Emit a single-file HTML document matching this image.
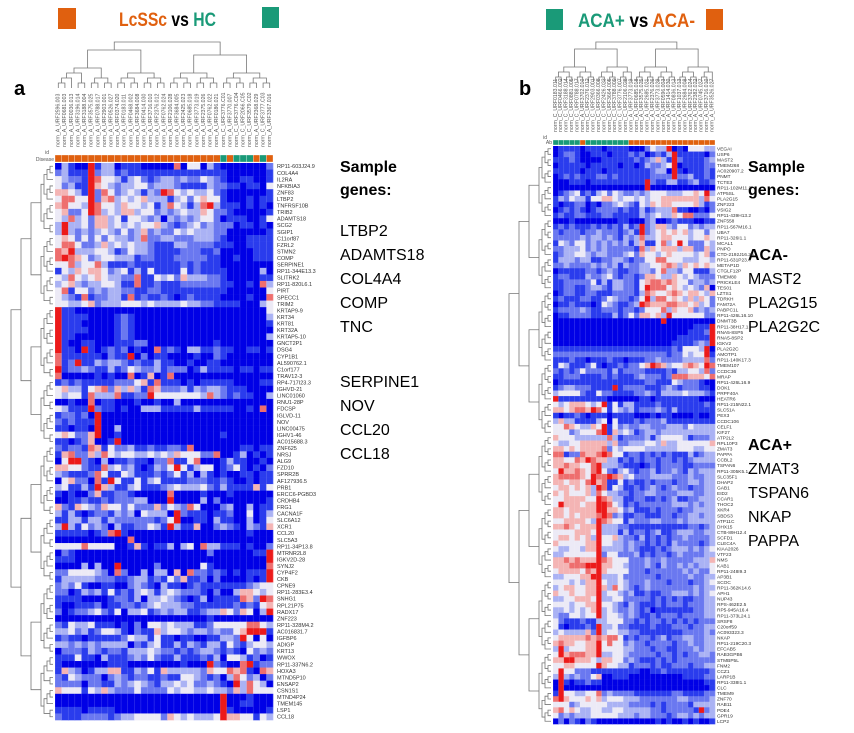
<!DOCTYPE html>
<html><head><meta charset="utf-8">
<style>
body{margin:0;background:#fff;width:854px;height:733px;overflow:hidden;font-family:"Liberation Sans",sans-serif;}
svg{position:absolute;left:0;top:0}
.t{font-family:"Liberation Sans",sans-serif}
</style></head><body>
<svg id="chart" width="854" height="733">
<g>
<rect x="58" y="8" width="18" height="21" fill="#e0600f"/>
<text x="119" y="26" font-size="19" font-weight="bold" class="t" textLength="97" lengthAdjust="spacingAndGlyphs"><tspan fill="#e0600f">LcSSc</tspan><tspan fill="#000"> vs </tspan><tspan fill="#1a9a78">HC</tspan></text>
<rect x="262" y="7" width="17" height="21" fill="#1a9a78"/>
</g>
<g>
<rect x="546" y="9" width="17" height="21" fill="#1a9a78"/>
<text x="578" y="27" font-size="19" font-weight="bold" class="t" textLength="117" lengthAdjust="spacingAndGlyphs"><tspan fill="#1a9a78">ACA+</tspan><tspan fill="#000"> vs </tspan><tspan fill="#e0600f">ACA-</tspan></text>
<rect x="706" y="9" width="17" height="21" fill="#e0600f"/>
</g>
<text x="14" y="95" font-size="20" font-weight="bold" class="t">a</text>
<text x="519" y="95" font-size="20" font-weight="bold" class="t">b</text>
<g id="side" font-size="16" class="t" fill="#000"></g>
<g id="L"></g><g id="R"></g>
</svg>
<script>
const leftGroups="OOOOOOOOOOOOOOOOOOOOOOOOOGOGGGOGO";
const rightGroups="GGGGGOGGGGGGGGOOOOOOOOOOOOOOOO";
const leftRows=[
"031007133011100000604403100000002","231117233121111111111111110000001","432217644313421233232243210011001","423117543233442333211113221101104",
"554317264234313276434334210000001","466447256343453331342454410001011","564437644354434136431367311101010","452247634355344232343354221000001",
"436342553414432303232344201110014","373342553434344532123423222011010","373232343242352322434333220000001","454242424332362233222333210001111",
"466422353434332111332222111001111","657333443124332111122211200000111","676542344333122111222221100100111","446344631112111111121211100000000",
"143545542341314111141211110000030","436434543322611434253332210000011","345323344311611211122222211001063","461442323322112211111111110000004",
"432161223316121121012111100001006","443345233344434333343322111100034","711000000000000000000000000000004","711110000121000000000000000000003",
"711100000121000000000000000000001","711110000121000000000000000000000","711000000121000000000000000000003","710011000111220000000000100000000",
"711071012120100612103311211001101","611111102117020110000100210000000","612711323321211311001001100000000","712232113124322312220131111011011",
"600000101006015016000000000000000","121211111222451611101011111000011","453314562535316522231323321110000","434416333611227444444436321211003",
"001006011000100100300000000000000","431117211010033311111311111001060","122120700000000000000000000000000","212111700000000000000000000000000",
"110110700300000000000000000000000","454225700100000000000000010000000","110125001700000000000000000000000","212216514223112112216000000011011",
"156225364344334343544422600130101","047721030112110226114600013110010","554421163423101324741344012410102","321112641143111212413031010011011",
"045220617411413411112221121001011","341131753113411123433342131111514","101002511221000006000010001000000","001121121222330007000030200000001",
"521543254424222524326400023003011","313101221323043330721110112004013","113313313222222124700110311003014","373142320311224317311500232103215",
"111110126710000000000000000001000","000000000006000000000000000000000","444464444001510113034063311101002","021000000000000000000002000000117",
"111000000000000000000000000000007","000030300700000200000041000000006","224444320620030330506221210101117","133333222112331214251120200001017",
"232410011002321031101211111112344","220132314121343134322210200355434","111100001221303343210130111165276","100111201122123433322111111212145",
"201223421403341232331123354254037","000000000000000000000001000000000","214334111010204434333112444446643","334231244310211534432332322457771",
"121101111124331411011001133274040","332323233330213411313213314213443","022213212213334322121233212104232","111411031112324211311121304431201",
"100000001110000000010007210067122","153201335511324153333325446561065","214322202321221121144321203642302","222202211323432133434223210736430",
"544414353222422224344334332536444","000000000000000000000000070001000","000000000000000000000000070011000","111101111000000000000000071000001",
"211122221233444425434333475544143"];
const rightRows=[
"011110111011110002433701044433","012210011101112120121371111102","111210000111111212353172111123","011111011111011013223470111122",
"111110111011111111233071011121","012121112212111111222272231121","000111011111111117211331123112","000000000000000007000000000000",
"012341213424322323444333445473","132433144554344343445555555364","101122010223432143545544445312","012121012222121131233361100102",
"121122111221111132343354662224","000100000000110002300121110011","121211121212131272355324423233","212221223222123172345454534424",
"222223233232132363345544434454","143244232323231351146347422243","223334232322222163545553552253","123344323322234254434544443452",
"133323311223321224466444333443","223222232323132233445653545454","011111221232112233246332441113","122111322342122125543354343222",
"112222241313322145665654423323","112211233213322147666454343250","012211221112222136544565455435","121112211243221247366454353542",
"011211101432112376555665545342","122223211222122124446354452323","011222211113124255453744444422","000000000000000000007000000000",
"000000000000000000000000001117","000000000000000000000000011127","000000000000000000000001111117","000000000000000000000011112327",
"111111111111111111111121444370","222222222222222222222122434471","111211011121101112232222333362","143111241011212245765344565476",
"212124222213122221111213344362","112221111212111232221266655546","011111111111111112211143222100","123322211117122221112321222110",
"344442114221111223213333433321","711111111100000011011111111000","434555434714133111121111111121","554566576414323122232131111111",
"101121011101111000101100001001","353311113404111212223111111111","446543354714232233222333243333","444234446715343123323333333333",
"544433333363122223134444312223","433445555535223334435334444445","554545555624344443333334443344","661226556764412212121211131233",
"554465765533121212212212123333","556554467333211101212222112222","475565467421342122312232132333","566665476676534222333322232233",
"554554675611412112122212233233","455454537614311212321232212233","545444536433221223322223332233","445555447653311221121231122333",
"475554557764312122222233323233","554555557755423111212221223333","554545556762311221112212233233","445555437654413222332223233333",
"556545557333221111111111122123","444455547333131221231123332233","455454537445322131212122322223","544444557443323221212132222123",
"433443557333323211121233323234","334444447244222312122123222233","556565557654442223223222223335","555666777554432223213223232334",
"455554657544442221222222323224","334445577333422222212222232233","444343557433432223222122212234","345544557536432123222222223233",
"544544557344323112112233323234","334455547334422222121212112233","444344557443213211121222122233","334343457343223212011111112233",
"322443447344323211212221222233","421112113344422121221212121222","410111217334221111211122212233","343333527344332211111111222232",
"455555656566412122123122332233","565544557464423221222212232233","373444557444433222122112223233","475666557334432222212212122332",
"557755543554423211121212222222","445544447544331222121122212233","474422211111111100112111111112","373232245001110000000000111122",
"071011211000000000000000000011","070000000000000000000000000001","174433446232222111111122111122","675444545344433322222223322223",
"444234444433332222121222213333","564543344334433333221222221723","423233344444333233222123323233","020210210000000000010100101001"];
const leftGenes=["RP11-603J24.9","COL4A4","IL2RA","NFKBIA3","ZNF83","LTBP2","TNFRSF10B","TRIB2","ADAMTS18","SCG2","SGIP1","C11orf87","FZRL2","STMN2","COMP","SERPINE1","RP11-344E13.3","SLITRK2","RP11-820L6.1","PIRT","SPECC1","TRIM2","KRTAP9-9","KRT34","KRT81","KRT32A","KRTAP5-10","GNCT2P1","DSG4","CYP1B1","AL590762.1","C1orf177","TRAV12-3","RP4-717I23.3","IGHVD-21","LINC01060","RNU1-28P","FDCSP","IGLVD-11","NOV","LINC00475","IGHV1-46","AC015688.3","ZNF625","NRSJ","ALG9","FZD10","SPRR2B","AF127936.5","PRB1","ERCC6-PGBD3","CRDHB4","FRG1","CACNA1F","SLC6A12","XCR1","CCL20","SLC5A3","RP11-34P13.8","MTRNR2L8","IGKV2D-28","SYNJ2","CYP4F2","CKB","CPNE9","RP11-283E3.4","SNHG1","RPL21P75","RADX17","ZNF223","RP11-328M4.2","AC016831.7","IGFBP6","ADIGP","KRT13","WWOX","RP11-337N6.2","HOXA3","MTND5P10","ENSAP2","CSN1S1","MTND4P24","TMEM145","LSP1","CCL18"];
const rightGenes=["VEGAI","USP6","MAST2","TMEM268","AC020907.2","PNMT","TCTE3","RP11-102M11.2","ATP5SL","PLA2G15","ZNF223","VSIG2","RP11-439H13.2","ZNF558","RP11-567M16.1","UBA7","RP11-326I1.1","MCAL1","PNPO","CTD-2192J16.20","RP11-631P23.4","METAP1D","CTGLF12P","TMEM80","PRICKLE4","TES01","LZTS1","TDRKH","FAM72A","PABPC1L","RP11-426L16.10","DNMT3B","RP11-38H17.1","RNA5-8SP5","RNA5-8SP2","IGKV2","PLA2G2C","AMOTP1","RP11-140K17.3","TMEM107","CCDC36","MRAP","RP11-426L16.9","DOK1","PRPF40A","HEATR6","RP11-215N22.1","SLC51A","PEX3","CCDC106","CELF1","KIF27","ATP2L2","RPL10P3","ZMAT3","PAPPA","CCBL2","TSPAN6","RP11-305K5.1","SLC35F1","DHAP2","GAB1","EID2","CCAR1","THOC2","XKR4","SBDS3","ATP11C","DHX15","CTB-89H12.4","SCFD1","CLEC4A","KIAA2026","VTF23","NMS","KAB1","RP11-248I9.3","AP3B1","SCOC","RP11-362K14.6","APH1","NUP43","RPS-462E2.5","RP5-945A16.4","RP11-373L24.1","SRSF8","C20orf59","AC093323.3","NKAP","RP11-219C20.3","EFCAB5","RAB3GPB6","STMBP5L","FNM2","CCZ1","LARP1B","RP11-338I1.1","CLC","TMEM9","ZNF70","RAB11","PDE4","GPR19","LCP2"];
const leftSampleIds=["URF2596.003","URF0681.003","URF0036.013","URF3196.014","URF3188.004","URF3575.025","URF0788.017","URF2903.001","URF0526.027","URF0374.020","URF0183.011","URF0468.002","URF3684.008","URF0414.030","URF3716.010","URF2376.012","URF0762.024","URF2106.028","URF3684.005","URF2425.023","URF0685.018","URF3773.019","URF2375.026","URF0762.022","URF0186.021","URF3776.C01","URF3770.007","URF3776.C04","URF2066.C05","URF3579.C02","URF2368.029","URF3777.C03","URF3367.016"];
const rightSampleIds=["URF0183.011","URF0466.002","URF3188.014","URF0881.005","URF0788.017","URF3702.010","URF2376.012","URF2903.001","URF0366.008","URF2426.023","URF3664.005","URF3788.009","URF3776.007","URF2106.028","URF3773.019","URF0685.018","URF3575.025","URF2685.021","URF2376.026","URF3773.029","URF0596.003","URF1414.030","URF0836.013","URF1037.013","URF2684.008","URF3762.024","URF2382.022","URF0745.027","URF3716.010","URF3526.027"];
const LEFT={x0:55,x1:273,y0:163,y1:720,bar:155,lab:277,id:"L",fs:5.5};
const RIGHT={x0:553,x1:715,y0:146,y1:724,bar:140,lab:717,id:"R",fs:4.8};
const palette=["#0000e6","#2a3ced","#6a78f0","#aab2f4","#eceaf6","#f4b4b4","#ee6e6e","#ec1a1a"];
const grp={O:"#e0600f",G:"#1a9a78"};
const NS="http://www.w3.org/2000/svg";
function mk(tag,attrs,parent){const e=document.createElementNS(NS,tag);for(const k in attrs)e.setAttribute(k,attrs[k]);parent.appendChild(e);return e;}
function drawPanel(P,rows,genes,groups,ids){
  const g=document.getElementById(P.id);
  const nC=groups.length,nR=rows.length;
  const cw=(P.x1-P.x0)/nC,rh=(P.y1-P.y0)/nR;
  const xs=c=>P.x0+c*cw, ys=r=>P.y0+r*rh;
  const hm=mk("g",{},g);
  
  
  rows.forEach((s,r)=>{for(let c=0;c<nC;c++){const v=+(s[c]||"1");
    const cell=mk("rect",{x:xs(c),y:ys(r),width:cw+0.3,height:rh+0.3,fill:palette[v]},hm);
    
    }});
  for(let c=0;c<=nC;c++)mk("line",{x1:xs(c),x2:xs(c),y1:P.y0,y2:P.y1,stroke:"#fff","stroke-opacity":0.25,"stroke-width":0.5},hm);
  const bar=mk("g",{},g);
  
  
  for(let c=0;c<nC;c++){const b=mk("rect",{x:xs(c),y:P.bar,width:cw,height:P.y0-P.bar-1,fill:grp[groups[c]],stroke:"#fff","stroke-width":0.3},bar);
    
    }
  const gl=mk("g",{"font-size":Math.min(P.fs,rh*0.95),fill:"#333"},g);
  
  
  for(let r=0;r<nR;r++){const t=mk("text",{x:P.lab,y:ys(r)+rh*0.8,class:"t"},gl);t.textContent=genes[r]||"";
    
    }
  const cl=mk("g",{"font-size":5.2,fill:"#555"},g);
  
  
  for(let c=0;c<nC;c++){const x=xs(c)+cw*0.7,y=P.bar-8;
    const t=mk("text",{x:x,y:y,transform:`rotate(-90 ${x} ${y})`,class:"t"},cl);
    t.textContent="norm_"+groups[c].replace("O","A").replace("G","C")+"_"+ids[c];
    
    }
  const dg=mk("g",{stroke:"#777","stroke-width":0.8,fill:"none"},g);
  
  
  const leafTop=P.id==="L"?88:82, rootY=42;
  function tree(a,b,depth){
    if(b-a<1){return [xs(a)+cw/2,leafTop];}
    const m=Math.floor((a+b)/2+ (depth%2?1:0)*0.4);
    const L=tree(a,Math.min(m,b-1),depth+1),R=tree(Math.min(m,b-1)+1,b,depth+1);
    const y=Math.max(rootY, Math.min(L[1],R[1])-(depth<2?18:5));
    mk("path",{d:`M${L[0]},${L[1]}V${y}H${R[0]}V${R[1]}`},dg);
    return [(L[0]+R[0])/2,y];
  }
  tree(0,nC-1,0);
  const rg=mk("g",{stroke:"#777","stroke-width":0.8,fill:"none"},g);
  
  
  const leafX=P.x0-2, rootX=P.x0-(P.id==="L"?52:50);
  function rtree(a,b,depth){
    if(b-a<1)return [leafX,ys(a)+rh/2];
    const m=Math.floor((a+b)/2);
    const U=rtree(a,m,depth+1),D=rtree(m+1,b,depth+1);
    const x=Math.max(rootX,Math.min(U[0],D[0])-(depth<3?10:3));
    mk("path",{d:`M${U[0]},${U[1]}H${x}V${D[1]}H${D[0]}`},rg);
    return [x,(U[1]+D[1])/2];
  }
  rtree(0,nR-1,0);
  const idl=mk("text",{x:P.x0-6,y:P.bar-1,"font-size":5,fill:"#555","text-anchor":"end",class:"t"},g);idl.textContent="id";
  
  
  const dl=mk("text",{x:P.x0-1,y:P.y0-2,"font-size":5,fill:"#555","text-anchor":"end",class:"t"},g);dl.textContent=P.id==="L"?"Disease":"Ab";
  
  
}
drawPanel(LEFT,leftRows,leftGenes,leftGroups,leftSampleIds);
drawPanel(RIGHT,rightRows,rightGenes,rightGroups,rightSampleIds);
const side=document.getElementById("side");
const sideText=[
 [340,172,"Sample",1],[340,195,"genes:",1],[340,236,"LTBP2",0],[340,260,"ADAMTS18",0],[340,284,"COL4A4",0],[340,308,"COMP",0],[340,332,"TNC",0],
 [340,387,"SERPINE1",0],[340,411,"NOV",0],[340,435,"CCL20",0],[340,459,"CCL18",0],
 [748,172,"Sample",1],[748,195,"genes:",1],[748,260,"ACA-",1],[748,284,"MAST2",0],[748,308,"PLA2G15",0],[748,332,"PLA2G2C",0],
 [748,450,"ACA+",1],[748,474,"ZMAT3",0],[748,498,"TSPAN6",0],[748,522,"NKAP",0],[748,546,"PAPPA",0]];
sideText.forEach(([x,y,s,b])=>{const t=mk("text",{x:x,y:y,"font-weight":b?"bold":"normal",class:"t"},side);t.textContent=s;
  
  });
</script>
</body></html>
